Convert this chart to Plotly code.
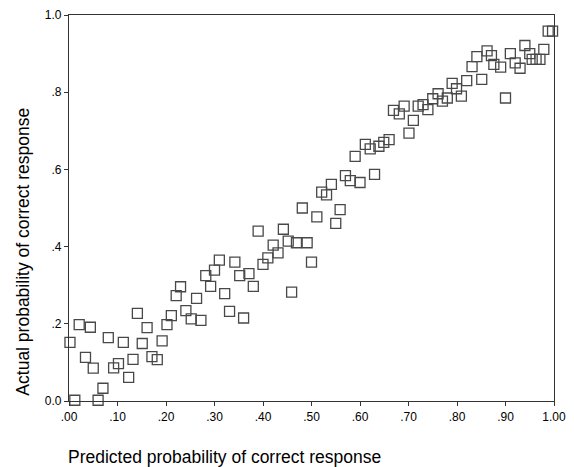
import plotly.graph_objects as go

predicted = [0.002, 0.012, 0.021, 0.034, 0.044, 0.050, 0.060, 0.070, 0.081, 0.092,
             0.102, 0.112, 0.123, 0.132, 0.141, 0.151, 0.161, 0.171, 0.182, 0.192,
             0.202, 0.211, 0.221, 0.230, 0.241, 0.252, 0.263, 0.272, 0.282, 0.292,
             0.300, 0.310, 0.321, 0.331, 0.342, 0.352, 0.360, 0.371, 0.380, 0.390,
             0.400, 0.410, 0.421, 0.431, 0.442, 0.452, 0.459, 0.469, 0.481, 0.491,
             0.500, 0.511, 0.521, 0.531, 0.541, 0.550, 0.559, 0.570, 0.580, 0.590,
             0.600, 0.611, 0.621, 0.630, 0.639, 0.649, 0.660, 0.669, 0.681, 0.691,
             0.701, 0.710, 0.720, 0.730, 0.740, 0.750, 0.761, 0.770, 0.780, 0.790,
             0.799, 0.809, 0.820, 0.831, 0.841, 0.851, 0.862, 0.871, 0.876, 0.890,
             0.900, 0.910, 0.920, 0.930, 0.940, 0.950, 0.955, 0.963, 0.971, 0.979,
             0.988, 0.997]
actual = [0.152, 0.002, 0.198, 0.113, 0.191, 0.085, 0.002, 0.033, 0.164, 0.086,
          0.097, 0.152, 0.061, 0.108, 0.227, 0.149, 0.190, 0.115, 0.107, 0.156,
          0.198, 0.221, 0.273, 0.296, 0.234, 0.213, 0.266, 0.209, 0.325, 0.297,
          0.339, 0.365, 0.278, 0.232, 0.360, 0.325, 0.215, 0.330, 0.297, 0.440,
          0.354, 0.371, 0.404, 0.384, 0.445, 0.414, 0.282, 0.410, 0.500, 0.410,
          0.360, 0.477, 0.541, 0.534, 0.561, 0.460, 0.496, 0.584, 0.571, 0.634,
          0.566, 0.665, 0.653, 0.587, 0.660, 0.670, 0.677, 0.753, 0.744, 0.764,
          0.694, 0.727, 0.764, 0.768, 0.755, 0.783, 0.796, 0.777, 0.785, 0.823,
          0.809, 0.790, 0.830, 0.866, 0.892, 0.833, 0.907, 0.895, 0.872, 0.865,
          0.785, 0.900, 0.876, 0.862, 0.921, 0.900, 0.885, 0.885, 0.885, 0.911,
          0.958, 0.958]

x_tickvals = [0.0, 0.1, 0.2, 0.3, 0.4, 0.5, 0.6, 0.7, 0.8, 0.9, 1.0]
x_ticktext = [".00", ".10", ".20", ".30", ".40", ".50", ".60", ".70", ".80", ".90", "1.00"]
y_tickvals = [0.0, 0.2, 0.4, 0.6, 0.8, 1.0]
y_ticktext = ["0.0", ".2", ".4", ".6", ".8", "1.0"]

fig = go.Figure()
fig.add_trace(go.Scatter(
    x=predicted, y=actual, mode="markers", cliponaxis=False,
    marker=dict(symbol="square-open", size=10, color="#484848",
                line=dict(width=1.3, color="#484848")),
    showlegend=False, hoverinfo="skip"))

axis_common = dict(showline=True, linecolor="#333333", linewidth=1.3, mirror=True,
                   showgrid=False, zeroline=False, ticks="outside", ticklen=4,
                   tickwidth=1, tickcolor="#333333", ticklabeloverflow="allow",
                   tickfont=dict(family="Liberation Sans", size=12, color="#000000"))

fig.update_xaxes(range=[0, 1], tickvals=x_tickvals, ticktext=x_ticktext, **axis_common)
fig.update_yaxes(range=[0, 1], tickvals=y_tickvals, ticktext=y_ticktext, **axis_common)

fig.update_layout(
    width=574, height=467,
    margin=dict(l=69, r=8, t=15, b=66),
    plot_bgcolor="white", paper_bgcolor="white",
    font=dict(family="Liberation Sans", color="#000000"),
    annotations=[
        dict(text="Predicted probability of correct response", xref="paper", yref="paper",
             x=(228 - 69) / 497, y=-(457 - 401.5) / 386, xanchor="center", yanchor="middle",
             showarrow=False, font=dict(size=17.5, family="Liberation Sans")),
        dict(text="Actual probability of correct response", xref="paper", yref="paper",
             x=-(69 - 22) / 497, y=(401.5 - 252) / 386, xanchor="center", yanchor="middle",
             textangle=-90, showarrow=False, font=dict(size=17.5, family="Liberation Sans")),
    ],
)

fig.write_html("out.html")
